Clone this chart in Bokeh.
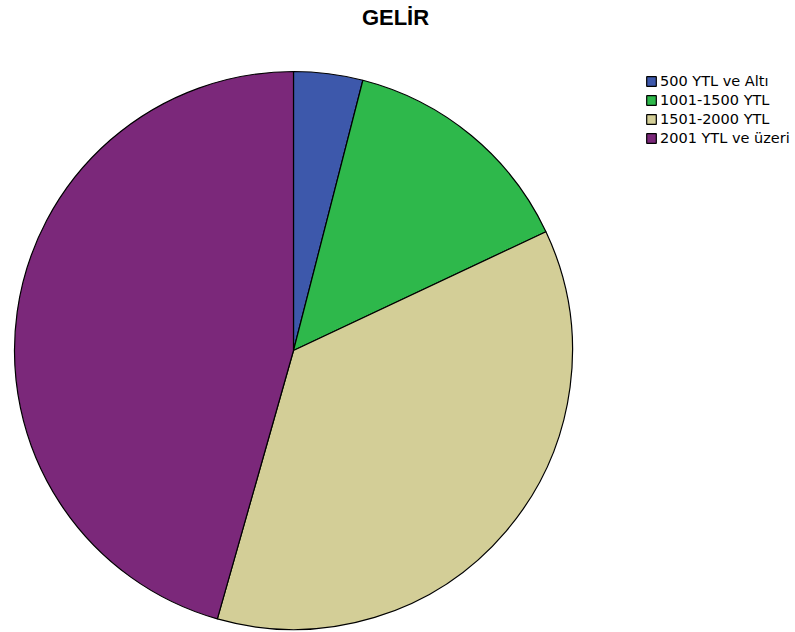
from bokeh.plotting import figure
from bokeh.models import Range1d, Legend, LegendItem, Label, ColumnDataSource
from bokeh.core.properties import field
from bokeh.embed import file_html
from bokeh.resources import INLINE
import math

categories = ["500 YTL ve Altı", "1001-1500 YTL", "1501-2000 YTL", "2001 YTL ve üzeri"]
counts = [10, 35, 91, 114]
colors = ["#3d58ab", "#2eb84b", "#d3ce97", "#7b287a"]
title_text = "GELİR"

W, H = 795, 632
total = sum(counts)
starts, ends = [], []
cum = 0.0
for c in counts:
    starts.append(math.pi / 2 - 2 * math.pi * cum / total)
    cum += c
    ends.append(math.pi / 2 - 2 * math.pi * cum / total)

src = ColumnDataSource(dict(cat=categories, val=counts, color=colors,
                            start=starts, end=ends))

p = figure(width=W, height=H, output_backend="svg", toolbar_location=None,
           x_range=Range1d(0, W), y_range=Range1d(0, H), min_border=0)
p.axis.visible = False
p.grid.visible = False
p.outline_line_color = None
p.background_fill_color = "white"
p.border_fill_color = "white"

r = p.wedge(x=293, y=H - 350, radius=279, start_angle="start", end_angle="end",
            direction="clock", fill_color="color", line_color="black",
            line_width=1.2, source=src)

legend = Legend(items=[LegendItem(label=field("cat"), renderers=[r])],
                location=(645, 485), padding=0, margin=0, spacing=0,
                glyph_width=12, glyph_height=12, label_height=19,
                label_standoff=3, label_text_font="DejaVu Sans",
                label_text_font_size="14.5px", label_text_color="black",
                border_line_alpha=0, background_fill_alpha=0)
p.add_layout(legend)

p.add_layout(Label(x=395, y=H - 17, text=title_text, text_align="center",
                   text_baseline="middle", text_font="Liberation Sans",
                   text_font_style="bold", text_font_size="22px",
                   text_color="black"))

open("out.html", "w").write(file_html(p, INLINE))
